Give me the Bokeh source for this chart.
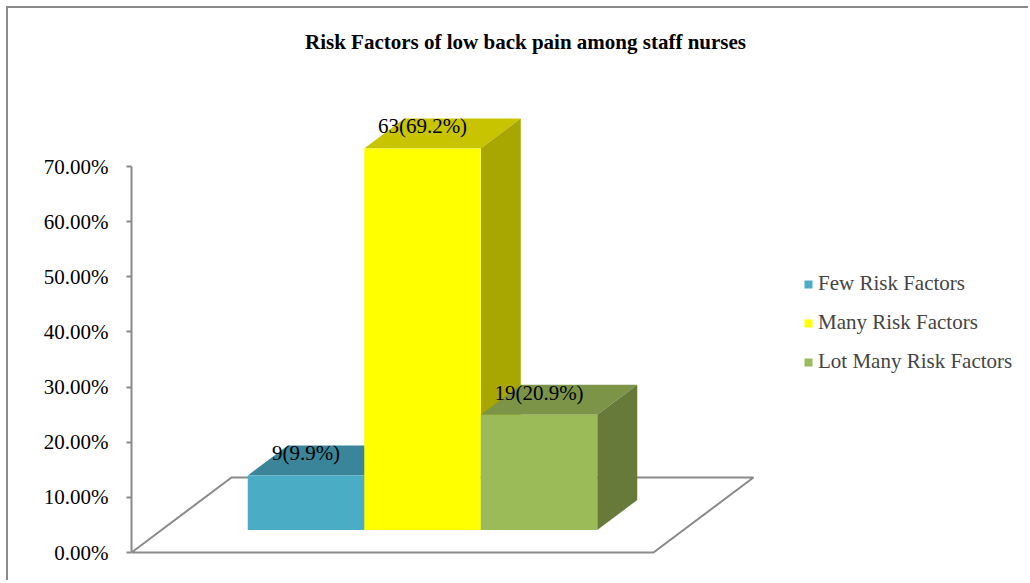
from bokeh.plotting import figure
from bokeh.models import (Range1d, FixedTicker, NumeralTickFormatter, Legend,
                          LegendItem, Label, ColumnDataSource)
from bokeh.core.properties import value
from bokeh.embed import file_html
from bokeh.resources import INLINE

# ---------------- data ----------------
categories = ["Few Risk Factors", "Many Risk Factors", "Lot Many Risk Factors"]
counts = [9, 63, 19]
percents = [9.9, 69.2, 20.9]
tick_values = [0.0, 0.1, 0.2, 0.3, 0.4, 0.5, 0.6, 0.7]
title_text = "Risk Factors of low back pain among staff nurses"

# ---------------- style ----------------
front_colors = ["#4BACC6", "#FFFF00", "#9BBB59"]
top_colors = ["#3A8599", "#C8C500", "#7B9448"]
side_colors = ["#2F6E80", "#A8A600", "#677A3A"]
grey = "#8A8A8A"
FONT = "Liberation Serif"

W, H = 1022, 574
LEFT = 123                 # frame left offset inside the figure
PX = 386 / 0.7             # pixels per unit of the value axis
FLOOR_W = 522              # floor width (px)
FLOOR_DX, FLOOR_DY = 100, 75   # depth of floor (px)
BAR_W = 116.5
F1, F2 = 0.3, 0.7          # bar front/back depth fractions

p = figure(width=W, height=H, output_backend="svg", toolbar_location=None,
           x_axis_location=None, y_axis_location="left",
           min_border_left=LEFT, min_border_right=0, min_border_top=0,
           min_border_bottom=0,
           x_range=Range1d(0, W - LEFT), y_range=Range1d(-30 / PX, 544 / PX))
p.styles = {"margin": "6px 0 0 6px",
            "border-left": "2px solid #8A8A8A",
            "border-top": "2px solid #8A8A8A"}
p.grid.visible = False
p.outline_line_color = None
p.background_fill_color = "white"
p.border_fill_color = "white"

yax = p.yaxis[0]
yax.bounds = (tick_values[0], tick_values[-1])
yax.ticker = FixedTicker(ticks=tick_values)
yax.formatter = NumeralTickFormatter(format="0.00%")
yax.axis_line_color = grey
yax.axis_line_width = 2
yax.major_tick_line_color = grey
yax.major_tick_line_width = 2
yax.major_tick_out = 5
yax.major_tick_in = 0
yax.minor_tick_line_color = None
yax.major_label_text_font = FONT
yax.major_label_text_font_size = "21px"
yax.major_label_text_color = "black"
yax.major_label_standoff = 18

# floor (depth plane)
fdy = FLOOR_DY / PX
p.line(x=[0, FLOOR_W, FLOOR_W + FLOOR_DX, FLOOR_DX, 0],
       y=[0, 0, fdy, fdy, 0], line_color=grey, line_width=2)

vals = [v / 100 for v in percents]
n = len(vals)
x0 = (FLOOR_W - n * BAR_W) / 2
fx1, fy1 = F1 * FLOOR_DX, F1 * FLOOR_DY / PX
fx2, fy2 = F2 * FLOOR_DX, F2 * FLOOR_DY / PX

items = []
lab_x, lab_y, lab_t = [], [], []
for i, (cat, v) in enumerate(zip(categories, vals)):
    xl = x0 + i * BAR_W
    xr = xl + BAR_W
    # top face
    p.patch(x=[xl + fx1, xr + fx1, xr + fx2, xl + fx2],
            y=[v + fy1, v + fy1, v + fy2, v + fy2],
            fill_color=top_colors[i], line_color=None)
    # right side face
    p.patch(x=[xr + fx1, xr + fx2, xr + fx2, xr + fx1],
            y=[fy1, fy2, v + fy2, v + fy1],
            fill_color=side_colors[i], line_color=None)
    # front face
    r = p.quad(left=xl + fx1, right=xr + fx1, bottom=fy1, top=v + fy1,
               fill_color=front_colors[i], line_color=None)
    items.append(LegendItem(label=cat, renderers=[r]))
    lab_x.append((xl + xr) / 2 + fx1)
    lab_y.append(v + fy1 + 22 / PX)
    lab_t.append(f"{counts[i]}({percents[i]}%)")

src = ColumnDataSource(dict(x=lab_x, y=lab_y, t=lab_t))
p.text(x="x", y="y", text="t", source=src, text_font=value(FONT),
       text_font_size="21px", text_align="center", text_baseline="middle",
       text_color="black")

p.add_layout(Label(x=394, y=(552 - 41) / PX, text=title_text,
                   text_font=FONT, text_font_size="21px",
                   text_font_style="bold", text_align="center",
                   text_baseline="middle", text_color="black"))

legend = Legend(items=items, location=(672, 208), orientation="vertical",
                glyph_width=10, glyph_height=10, label_standoff=5,
                label_text_font=FONT, label_text_font_size="21px",
                label_height=20, spacing=14, padding=0, margin=0,
                border_line_color=None, background_fill_alpha=0)
p.add_layout(legend)

open("out.html", "w").write(file_html(p, INLINE))
